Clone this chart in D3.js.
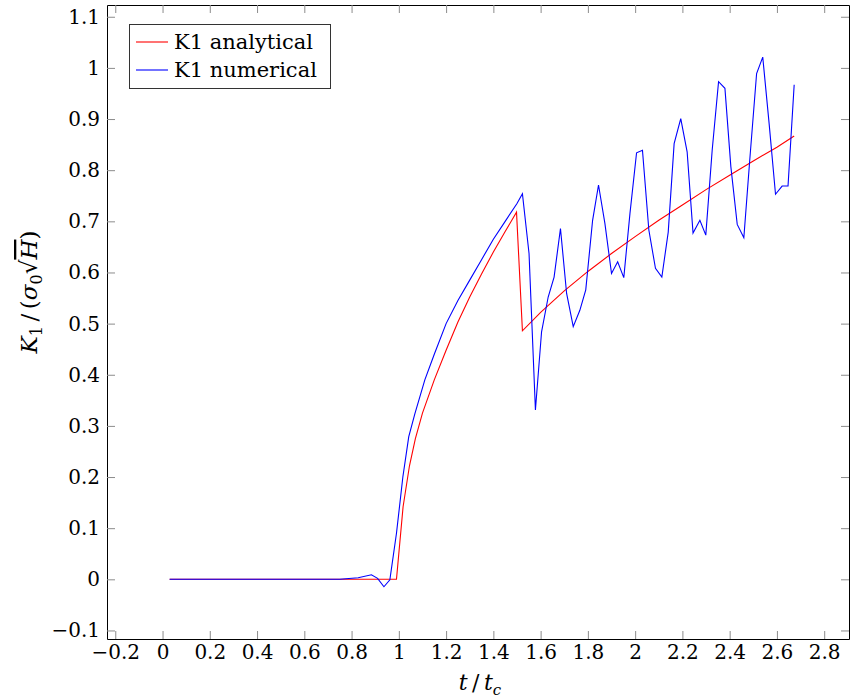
<!DOCTYPE html>
<html>
<head>
<meta charset="utf-8">
<script src="https://cdn.jsdelivr.net/npm/d3@7"></script>
<style>
  body { margin: 0; background: #fff; }
  text { font-family: "DejaVu Serif", serif; }
</style>
</head>
<body>
<svg id="main-svg" width="851" height="700"></svg>
<script>
// values
const analyticalT = [0.03, 0.99, 1.018, 1.045, 1.07, 1.1, 1.15, 1.2, 1.25, 1.3, 1.35, 1.4, 1.45, 1.498,
  1.523, 1.6, 1.7, 1.8, 1.9, 2.0, 2.1, 2.2, 2.3, 2.4, 2.5, 2.6, 2.673];
const analyticalK = [0, 0, 0.142, 0.222, 0.275, 0.325, 0.39, 0.448, 0.503, 0.552, 0.597, 0.64, 0.68, 0.718,
  0.486, 0.522, 0.564, 0.602, 0.637, 0.67, 0.702, 0.732, 0.762, 0.79, 0.818, 0.845, 0.867];

const numericalT = [0.03, 0.75, 0.828, 0.884, 0.91, 0.937, 0.962, 0.99, 1.017, 1.042, 1.068, 1.11, 1.15,
  1.2, 1.25, 1.3, 1.35, 1.4, 1.45, 1.5, 1.523, 1.551, 1.578, 1.604, 1.632, 1.657, 1.684, 1.71, 1.738,
  1.766, 1.791, 1.82, 1.845, 1.872, 1.9, 1.926, 1.952, 1.978, 2.006, 2.031, 2.058, 2.086, 2.113, 2.14,
  2.165, 2.193, 2.22, 2.245, 2.274, 2.299, 2.326, 2.353, 2.38, 2.405, 2.432, 2.46, 2.485, 2.514, 2.54,
  2.567, 2.594, 2.622, 2.647, 2.673];
const numericalK = [0, 0, 0.003, 0.009, 0.002, -0.0145, -0.001, 0.09, 0.2, 0.279, 0.324, 0.39, 0.44,
  0.5, 0.545, 0.585, 0.625, 0.665, 0.7, 0.735, 0.754, 0.637, 0.331, 0.484, 0.552, 0.591, 0.686, 0.559, 0.494,
  0.526, 0.566, 0.702, 0.771, 0.696, 0.598, 0.621, 0.59, 0.715, 0.834, 0.839, 0.683, 0.608, 0.591, 0.679,
  0.852, 0.901, 0.836, 0.677, 0.702, 0.673, 0.839, 0.973, 0.96, 0.807, 0.694, 0.668, 0.82, 0.989, 1.021,
  0.891, 0.753, 0.769, 0.769, 0.967];

const xTicks = [-0.2, 0, 0.2, 0.4, 0.6, 0.8, 1, 1.2, 1.4, 1.6, 1.8, 2, 2.2, 2.4, 2.6, 2.8];
const yTicks = [-0.1, 0, 0.1, 0.2, 0.3, 0.4, 0.5, 0.6, 0.7, 0.8, 0.9, 1, 1.1];

const seriesNames = ['K1 analytical', 'K1 numerical'];
const seriesColors = ['#ff0000', '#0000ff'];

const svg = d3.select('#main-svg');
const plotL = 107, plotR = 849, plotT = 5, plotB = 639;

const x = d3.scaleLinear().domain([-0.235, 2.905]).range([plotL, plotR]);
const y = d3.scaleLinear().domain([-0.1167, 1.123]).range([plotB, plotT]);

const fmt = d => (d === 0 ? '0' : String(Math.round(d * 10) / 10)).replace('-', '\u2212');

function styleAxis(g) {
  g.select('.domain').attr('stroke', '#000').attr('stroke-width', 1);
  g.selectAll('.tick line').attr('stroke', '#8c8c8c').attr('stroke-width', 1);
  g.selectAll('.tick text').attr('fill', '#000').style('font-size', '20px')
    .style('font-family', '"DejaVu Serif", serif');
}

svg.append('g').attr('transform', `translate(0,${plotB})`)
  .call(d3.axisBottom(x).tickValues(xTicks).tickFormat(fmt).tickSize(-8).tickPadding(6).tickSizeOuter(0))
  .call(styleAxis);
svg.append('g').attr('transform', `translate(0,${plotT})`)
  .call(d3.axisTop(x).tickValues(xTicks).tickFormat('').tickSize(-8).tickSizeOuter(0))
  .call(styleAxis);
svg.append('g').attr('transform', `translate(${plotL},0)`)
  .call(d3.axisLeft(y).tickValues(yTicks).tickFormat(fmt).tickSize(-8).tickPadding(7).tickSizeOuter(0))
  .call(styleAxis);
svg.append('g').attr('transform', `translate(${plotR},0)`)
  .call(d3.axisRight(y).tickValues(yTicks).tickFormat('').tickSize(-8).tickSizeOuter(0))
  .call(styleAxis);

// lines
const series = [
  analyticalT.map((t, i) => [t, analyticalK[i]]),
  numericalT.map((t, i) => [t, numericalK[i]])
];
const line = d3.line().x(d => x(d[0])).y(d => y(d[1]));
svg.selectAll('path.series')
  .data(series)
  .enter()
  .append('path')
  .attr('class', 'series')
  .attr('d', line)
  .attr('fill', 'none')
  .attr('stroke', (d, i) => seriesColors[i])
  .attr('stroke-width', 1.1);

// legend
const legend = svg.append('g');
legend.append('rect')
  .attr('x', 129.5).attr('y', 24.5).attr('width', 201).attr('height', 64)
  .attr('fill', '#fff').attr('stroke', '#333').attr('stroke-width', 1);
seriesNames.forEach((name, i) => {
  const ly = 42 + i * 28;
  legend.append('line')
    .attr('x1', 136).attr('x2', 168).attr('y1', ly).attr('y2', ly)
    .attr('stroke', seriesColors[i]).attr('stroke-width', 1.1);
  legend.append('text')
    .attr('x', 174).attr('y', ly + 7)
    .style('font-size', '21px')
    .text(name);
});

// axis labels
const xl = svg.append('text')
  .attr('x', 480).attr('y', 690)
  .attr('text-anchor', 'middle')
  .style('font-size', '22px');
xl.append('tspan').style('font-style', 'italic').text('t');
xl.append('tspan').text('\u2009/\u2009');
xl.append('tspan').style('font-style', 'italic').text('t');
xl.append('tspan').style('font-style', 'italic').style('font-size', '15px').attr('dy', 5).text('c');

const yl = svg.append('text')
  .attr('transform', 'translate(37,292) rotate(-90)')
  .attr('text-anchor', 'middle')
  .style('font-size', '23px');
yl.append('tspan').style('font-style', 'italic').text('K');
yl.append('tspan').style('font-size', '16px').attr('dy', 5).text('1');
yl.append('tspan').attr('dy', -5).text('\u2009/\u2009(');
yl.append('tspan').style('font-style', 'italic').text('σ');
yl.append('tspan').style('font-size', '16px').attr('dy', 5).text('0');
yl.append('tspan').attr('dy', -5).text('√');
yl.append('tspan').style('font-style', 'italic').style('text-decoration', 'overline').text('H');
yl.append('tspan').text(')');
</script>
</body>
</html>
